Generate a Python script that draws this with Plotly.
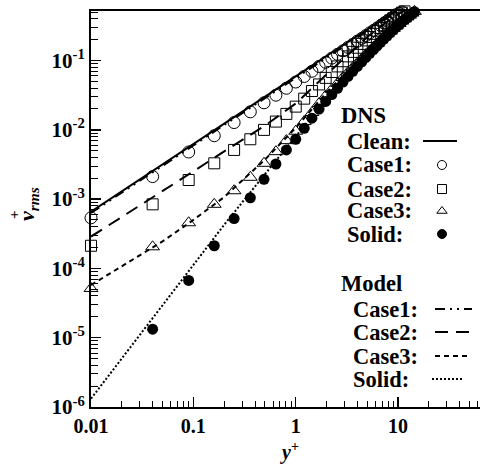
import numpy as np
import plotly.graph_objects as go

# ---------------- data ----------------
# DNS grid points (y+)
yplus = [0.01, 0.04, 0.09, 0.16, 0.25, 0.36, 0.49, 0.64, 0.81, 1.0,
         1.21, 1.44, 1.69, 1.96, 2.25, 2.56, 2.89, 3.24, 3.61, 4.0,
         4.41, 4.84, 5.29, 5.76, 6.25, 6.76, 7.29, 7.84, 8.41, 9.0,
         9.61, 10.24, 10.89, 11.56, 12.25, 12.96, 13.69, 14.44, 15.21, 16.0]

# log10(v+_rms) of DNS cases at the grid points
case1_log = [-3.27, -2.675, -2.32, -2.085, -1.895, -1.74, -1.61, -1.50, -1.40, -1.31,
             -1.23, -1.155, -1.085, -1.025, -0.965, -0.91, -0.86, -0.81, -0.765, -0.72,
             -0.68, -0.64, -0.60, -0.565, -0.53, -0.495, -0.46, -0.43, -0.40, -0.37,
             -0.345, -0.32, -0.30, -0.28, -0.265, -0.25, -0.24, -0.23, -0.22, -0.21]
case2_log = [-3.673, -3.075, -2.724, -2.483, -2.29, -2.136, -2.001, -1.881, -1.77, -1.665,
             -1.55, -1.44, -1.345, -1.25, -1.165, -1.085, -1.01, -0.94, -0.875, -0.815,
             -0.76, -0.71, -0.66, -0.615, -0.57, -0.53, -0.49, -0.455, -0.42, -0.39,
             -0.36, -0.335, -0.31, -0.29, -0.27, -0.255, -0.24, -0.23, -0.22, -0.21]
case3_log = [-4.289, -3.688, -3.341, -3.075, -2.879, -2.685, -2.483, -2.315, -2.156, -2.02,
             -1.88, -1.75, -1.62, -1.51, -1.415, -1.33, -1.245, -1.17, -1.10, -1.035,
             -0.975, -0.915, -0.86, -0.805, -0.755, -0.705, -0.66, -0.615, -0.575, -0.535,
             -0.50, -0.465, -0.43, -0.40, -0.37, -0.345, -0.315, -0.29, -0.27, -0.25]
solid_log = [None, -4.877, -4.173, -3.673, -3.28, -2.98, -2.714, -2.493, -2.29, -2.136,
             -1.977, -1.832, -1.70, -1.59, -1.49, -1.40, -1.31, -1.23, -1.155, -1.085,
             -1.02, -0.955, -0.895, -0.84, -0.785, -0.735, -0.685, -0.64, -0.595, -0.555,
             -0.515, -0.48, -0.445, -0.41, -0.38, -0.35, -0.32, -0.295, -0.27, -0.25]

# clean DNS and model curves
line_yplus = [0.01, 0.02, 0.05, 0.1, 0.2, 0.5, 1, 2, 5, 7, 10, 13, 16]
clean_log = [-3.18, -2.888, -2.499, -2.205, -1.911, -1.523, -1.228, -0.934, -0.545, -0.40, -0.26, -0.21, -0.18]
m_case1_log = [-3.20, -2.91, -2.52, -2.225, -1.93, -1.545, -1.25, -0.955, -0.57, -0.425, -0.28, -0.225, -0.195]
m_case2_log = [-3.54, -3.26, -2.88, -2.60, -2.31, -1.94, -1.62, -1.20, -0.66, -0.49, -0.33, -0.245, -0.20]
m_case3_log = [-4.24, -3.97, -3.61, -3.30, -2.97, -2.43, -1.97, -1.46, -0.86, -0.66, -0.46, -0.33, -0.24]
m_solid_log = [-5.88, -5.30, -4.53, -3.95, -3.37, -2.64, -2.09, -1.55, -0.91, -0.69, -0.49, -0.34, -0.245]

x_ticks = [0.01, 0.1, 1, 10]
x_ticktext = ["0.01", "0.1", "1", "10"]
y_ticks = [1e-6, 1e-5, 1e-4, 1e-3, 1e-2, 1e-1]
y_ticktext = ["10<sup>-6</sup>", "10<sup>-5</sup>", "10<sup>-4</sup>",
              "10<sup>-3</sup>", "10<sup>-2</sup>", "10<sup>-1</sup>"]


def pw(v):
    return [None if a is None else 10 ** a for a in v]


# ---------------- layout helpers ----------------
W, H = 480, 472
ML, MT, MR, MB = 91, 11, 0, 65
FONT = "Liberation Serif, Times New Roman, Times, serif"


def px(x):
    return (x - ML) / (W - ML - MR)


def py(y):
    return (H - MB - y) / (H - MT - MB)


fig = go.Figure()

# DNS markers
mk = dict(color="black", width=1)
fig.add_trace(go.Scatter(x=yplus, y=pw(case1_log), mode="markers", cliponaxis=False,
                         marker=dict(symbol="circle-open", size=12, line=mk, color="black")))
fig.add_trace(go.Scatter(x=yplus, y=pw(case2_log), mode="markers", cliponaxis=False,
                         marker=dict(symbol="square-open", size=11, line=mk, color="black")))
fig.add_trace(go.Scatter(x=yplus, y=pw(case3_log), mode="markers", cliponaxis=False,
                         marker=dict(symbol="triangle-up-open", size=12, line=mk, color="black")))
fig.add_trace(go.Scatter(x=yplus, y=pw(solid_log), mode="markers", cliponaxis=False,
                         marker=dict(symbol="circle", size=11, color="black")))

# lines
dash_c1 = "10px,5px,2px,5px,2px,5px"
dash_c2 = "13px,8px"
dash_c3 = "5px,4px"
dash_s = "2px,2px"
fig.add_trace(go.Scatter(x=line_yplus, y=pw(m_case1_log), mode="lines", cliponaxis=False,
                         line=dict(color="black", width=2, dash=dash_c1)))
fig.add_trace(go.Scatter(x=line_yplus, y=pw(m_case2_log), mode="lines", cliponaxis=False,
                         line=dict(color="black", width=2, dash=dash_c2)))
fig.add_trace(go.Scatter(x=line_yplus, y=pw(m_case3_log), mode="lines", cliponaxis=False,
                         line=dict(color="black", width=2, dash=dash_c3)))
fig.add_trace(go.Scatter(x=line_yplus, y=pw(m_solid_log), mode="lines", cliponaxis=False,
                         line=dict(color="black", width=2, dash=dash_s)))
fig.add_trace(go.Scatter(x=line_yplus, y=pw(clean_log), mode="lines", cliponaxis=False,
                         line=dict(color="black", width=2)))

# ---------------- legend (pixel-placed overlay axes) ----------------
leg_rows_dns = [("Clean:", 141), ("Case1:", 165), ("Case2:", 189), ("Case3:", 211), ("Solid:", 234)]
leg_rows_model = [("Case1:", 309), ("Case2:", 332), ("Case3:", 356), ("Solid:", 379)]

ann = []
ann.append(dict(text="<b>DNS</b>", x=px(339), y=py(115), xanchor="left", yanchor="middle"))
for t, yy in leg_rows_dns:
    ann.append(dict(text="<b>%s</b>" % t, x=px(345), y=py(yy), xanchor="left", yanchor="middle"))
ann.append(dict(text="<b>Model</b>", x=px(339), y=py(283), xanchor="left", yanchor="middle"))
for t, yy in leg_rows_model:
    ann.append(dict(text="<b>%s</b>" % t, x=px(351), y=py(yy), xanchor="left", yanchor="middle"))

legend_marker_y = [165, 189, 211, 234]
legend_symbols = ["circle-open", "square-open", "triangle-up-open", "circle"]
for yy, sym in zip(legend_marker_y, legend_symbols):
    fig.add_trace(go.Scatter(x=[442], y=[yy], xaxis="x2", yaxis="y2", mode="markers", cliponaxis=False,
                             marker=dict(symbol=sym, size=9, color="black", line=dict(color="black", width=1))))
fig.add_trace(go.Scatter(x=[423, 457], y=[141, 141], xaxis="x2", yaxis="y2", mode="lines", cliponaxis=False,
                         line=dict(color="black", width=2)))
for yy, d, x0, x1 in [(309, dash_c1, 435, 472), (332, dash_c2, 435, 472),
                      (356, dash_c3, 435, 470), (379, dash_s, 432, 464)]:
    fig.add_trace(go.Scatter(x=[x0, x1], y=[yy, yy], xaxis="x2", yaxis="y2", mode="lines", cliponaxis=False,
                             line=dict(color="black", width=2, dash=d)))

for a in ann:
    a.update(xref="paper", yref="paper", showarrow=False,
             font=dict(family=FONT, size=22.5, color="black"))

# axis titles
ann.append(dict(text="<b><i>y</i></b><sup><b>+</b></sup>", x=px(289), y=py(451), xref="paper", yref="paper",
                showarrow=False, xanchor="center", yanchor="middle",
                font=dict(family=FONT, size=20, color="black")))
ann.append(dict(text="<b><i>v</i></b><sub><b><i>rms</i></b></sub>", x=px(28), y=py(204),
                xref="paper", yref="paper", showarrow=False, textangle=-90,
                xanchor="center", yanchor="middle",
                font=dict(family=FONT, size=22, color="black")))
ann.append(dict(text="<b>+</b>", x=px(14), y=py(215), xref="paper", yref="paper", showarrow=False,
                textangle=-90, xanchor="center", yanchor="middle",
                font=dict(family=FONT, size=15, color="black")))

minor_x = [m * d for d in [0.01, 0.1, 1, 10] for m in range(2, 10)]
minor_y = [m * d for d in [1e-6, 1e-5, 1e-4, 1e-3, 1e-2, 1e-1] for m in range(2, 10)]

fig.update_layout(
    width=W, height=H,
    margin=dict(l=ML, r=MR, t=MT, b=MB, autoexpand=False),
    plot_bgcolor="white", paper_bgcolor="white",
    showlegend=False,
    annotations=ann,
    font=dict(family=FONT, color="black"),
    xaxis=dict(type="log", range=[-2, 1.8], tickmode="array", tickvals=x_ticks,
               ticktext=["<b>%s</b>" % t for t in x_ticktext], automargin=False,
               ticks="inside", ticklen=10, tickwidth=1.5, tickcolor="black",
               showline=True, linecolor="black", linewidth=2, mirror=True,
               showgrid=False, zeroline=False,
               minor=dict(tickmode="array", tickvals=minor_x, ticks="inside", ticklen=6,
                          tickwidth=1, tickcolor="black", showgrid=False),
               tickfont=dict(family=FONT, size=20, color="black")),
    yaxis=dict(type="log", range=[-6, -0.285], tickmode="array", tickvals=y_ticks,
               ticktext=["<b>%s</b>" % t for t in y_ticktext], automargin=False,
               ticks="inside", ticklen=10, tickwidth=1.5, tickcolor="black",
               showline=True, linecolor="black", linewidth=2, mirror=False,
               showgrid=False, zeroline=False,
               minor=dict(tickmode="array", tickvals=minor_y, ticks="inside", ticklen=7,
                          tickwidth=1, tickcolor="black", showgrid=False),
               tickfont=dict(family=FONT, size=21, color="black")),
    xaxis2=dict(overlaying="x", range=[ML, W - MR], visible=False, fixedrange=True, automargin=False),
    yaxis2=dict(overlaying="y", range=[H - MB, MT], visible=False, fixedrange=True, automargin=False),
)

fig.write_html("out.html", config={"displayModeBar": False, "staticPlot": True},
               post_script="document.body.style.margin='0';document.body.style.padding='0';"
                           "document.body.style.overflow='hidden';")
